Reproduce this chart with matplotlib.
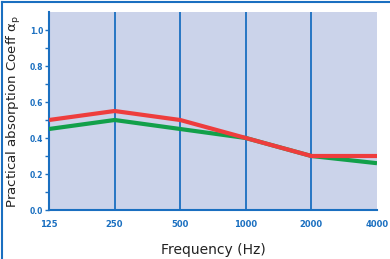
import matplotlib
matplotlib.use("Agg")
import matplotlib.pyplot as plt
from matplotlib.lines import Line2D

freqs = ["125", "250", "500", "1000", "2000", "4000"]
red_vals = [0.50, 0.55, 0.50, 0.40, 0.30, 0.30]
green_vals = [0.45, 0.50, 0.45, 0.40, 0.30, 0.26]

blue = "#1a6fc0"
fig = plt.figure(figsize=(3.9, 2.59), dpi=100)
ax = fig.add_axes([49/390, 1-210/259, (377-49)/390, (210-12)/259])
ax.set_facecolor("#cbd3ea")
x = list(range(len(freqs)))
for xi in x[1:-1]:
    ax.axvline(xi, color=blue, lw=1.3, zorder=1)
ax.plot(x, green_vals, color="#12a04a", lw=3, zorder=3, solid_capstyle="butt")
ax.plot(x, red_vals, color="#ee3d3d", lw=3, zorder=4, solid_capstyle="butt")
ax.set_xlim(0, 5)
ax.set_ylim(0, 1.1)
ax.set_xticks(x)
ax.set_xticklabels(freqs)
ax.set_yticks([0, 0.2, 0.4, 0.6, 0.8, 1.0])
ax.set_yticklabels(["0.0", "0.2", "0.4", "0.6", "0.8", "1.0"])
ax.set_yticks([0.1, 0.3, 0.5, 0.7, 0.9], minor=True)
for s in ["top", "right"]:
    ax.spines[s].set_visible(False)
for s in ["left", "bottom"]:
    ax.spines[s].set_color(blue)
    ax.spines[s].set_linewidth(1.5)
ax.tick_params(axis="y", which="both", colors=blue, length=3, width=1, labelsize=5.5, pad=1)
ax.tick_params(axis="x", length=0, colors=blue, labelsize=6, pad=7)
for lab in ax.get_xticklabels() + ax.get_yticklabels():
    lab.set_fontweight("bold")
ax.set_xlabel("Frequency (Hz)", fontsize=10, color="#222222", labelpad=10)
ax.set_ylabel("Practical absorption Coeff α$_\\mathrm{p}$", fontsize=9.6, color="#222222", labelpad=5)
fig.add_artist(Line2D([2/390, 2/390], [0, 1-2/259], transform=fig.transFigure, color=blue, lw=1.5))
fig.add_artist(Line2D([2/390, 1], [1-2/259, 1-2/259], transform=fig.transFigure, color=blue, lw=1.5))
fig.savefig("out.png", dpi=100)
